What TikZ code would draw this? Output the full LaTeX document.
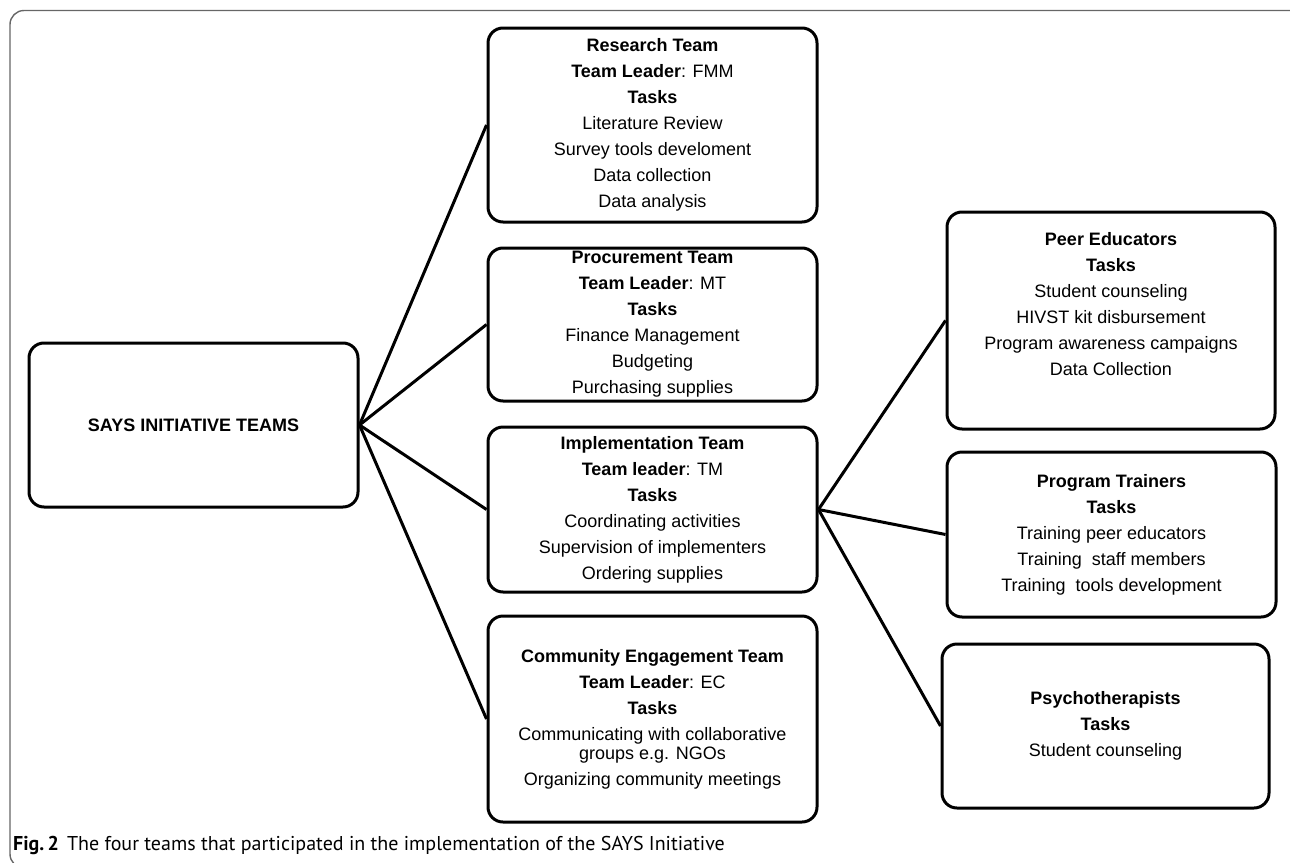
\documentclass[tikz,border=0pt]{standalone}
\usepackage{fontspec}
\setmainfont{Liberation Sans}
\newfontfamily\capfont{PT Sans}
\usetikzlibrary{positioning}

\tikzset{
  team/.style={draw, line width=3pt, rounded corners=15pt, minimum width=329pt,
    align=center, inner sep=0pt, font=\fontsize{18}{26}\selectfont},
  link/.style={line width=3pt},
}

\begin{document}
\begin{tikzpicture}[x=1pt,y=-1pt]
\useasboundingbox (0,0) rectangle (1290,862);

% --- Cornice ---
\draw[gray!80!black, line width=1.4pt, rounded corners=14pt]
  (1302,10.5) -- (10,10.5) -- (10,868) -- (40,868);

% --- Squadre ---
\node[team, minimum height=164pt] (says) at (193.5,425) {\textbf{SAYS INITIATIVE TEAMS}};

\node[team, minimum height=194pt] (research) at (652.5,125)
  {\textbf{Research Team}\\ \textbf{Team Leader}: FMM\\ \textbf{Tasks}\\
   Literature Review\\ Survey tools develoment\\ Data collection\\ Data analysis};

\node[team, minimum height=153pt] (procure) at (652.5,324.5)
  {\textbf{Procurement Team}\\ \textbf{Team Leader}: MT\\ \textbf{Tasks}\\
   Finance Management\\ Budgeting\\ Purchasing supplies};

\node[team, minimum height=165pt] (implement) at (652.5,509.5)
  {\textbf{Implementation Team}\\ \textbf{Team leader}: TM\\ \textbf{Tasks}\\
   Coordinating activities\\ Supervision of implementers\\ Ordering supplies};

\node[team, minimum height=206pt] (community) at (652.5,719)
  {\textbf{Community Engagement Team}\\ \textbf{Team Leader}: EC\\ \textbf{Tasks}\\
   Communicating with collaborative\\[-7pt] groups e.g. NGOs\\ Organizing community meetings};

% --- Sottogruppi ---
\node[team, minimum width=328pt, minimum height=217pt] (peer) at (1111,320.5)
  {\textbf{Peer Educators}\\ \textbf{Tasks}\\ Student counseling\\ HIVST kit disbursement\\
   Program awareness campaigns\\ Data Collection\\ \strut};

\node[team, minimum height=165pt] (trainers) at (1111.5,534.5)
  {\textbf{Program Trainers}\\ \textbf{Tasks}\\ Training peer educators\\
   Training\ \ staff members\\ Training\ \ tools development};

\node[team, minimum width=327pt, minimum height=164pt] (psycho) at (1105.5,726)
  {\textbf{Psychotherapists}\\ \textbf{Tasks}\\ Student counseling};

% --- Collegamenti ---
\foreach \t in {research,procure,implement,community}
  \draw[link] (says.east) -- (\t.west);
\foreach \t in {peer,trainers,psycho}
  \draw[link] (implement.east) -- (\t.west);

% --- Didascalia ---
\node[anchor=base west, inner sep=0pt, font=\capfont\fontsize{20}{22}\selectfont] (caption)
  at (13,850) {\textbf{Fig.\,2}\hspace{8pt}The four teams that participated in the implementation of the SAYS Initiative};

\end{tikzpicture}
\end{document}
